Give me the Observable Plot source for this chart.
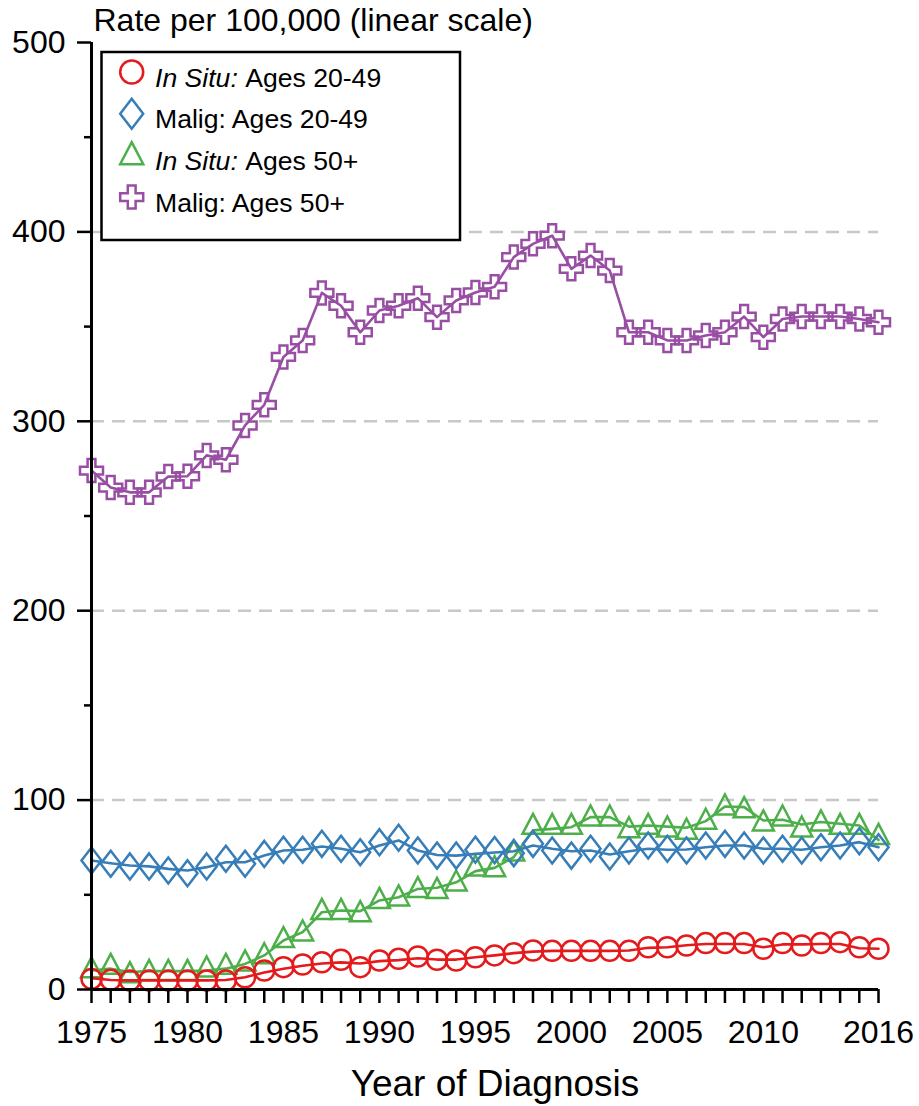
<!DOCTYPE html>
<html><head><meta charset="utf-8">
<script src="https://cdn.jsdelivr.net/npm/d3@7"></script>
<script src="https://cdn.jsdelivr.net/npm/@observablehq/plot@0.6"></script>
<style>body{margin:0;background:#fff;} #chart{width:919px;height:1106px;}</style>
</head><body><div id="chart"></div>
<script>
// ---------- data ----------
const years = [1975,1976,1977,1978,1979,1980,1981,1982,1983,1984,1985,1986,1987,1988,1989,1990,1991,1992,1993,1994,1995,1996,1997,1998,1999,2000,2001,2002,2003,2004,2005,2006,2007,2008,2009,2010,2011,2012,2013,2014,2015,2016];
const xTickLabels = [1975,1980,1985,1990,1995,2000,2005,2010,2016];
const yMajorTicks = [0,100,200,300,400,500];
const yMinorTicks = [50,150,250,350,450];
const yGrid = [100,200,300,400];
const seriesNames = ["In Situ:|Ages 20-49","Malig: Ages 20-49","In Situ:|Ages 50+","Malig: Ages 50+"];

// observed rates
const inSituYoung = [5.6,5.1,4.7,4.7,4.7,4.7,4.7,4.7,6.5,10, 11.8,13.2,14.4,15.7,11.8,15.3,16.2,17.4,15.7,15.3, 17,18,19.2,20.6,20.4,20.4,20.4,20.4,20.4,22.3, 22.3,23.2,24.5,24.5,24.5,21.5,24.5,23.2,24.5,25, 22.3,21.5];
const maligYoung = [68.1,66.4,65,65,62.8,61.4,65,69,66.4,71.6, 73.8,73.8,76.9,74.3,72.5,77.8,80.1,73.4,70.7,70.7, 73.8,73.6,72,76.9,73.4,70.7,74.3,70.2,73.4,76, 74.3,73.4,76,76.9,76,73.4,74.3,73.4,75.1,76, 78.3,75.1];
const inSituOld = [10.7,12.5,8.1,9.3,9.3,9.3,11.1,12.5,14.3,18.1, 26.6,30.1,41.5,41.5,40.3,47.3,48.6,53,52.6,56.5, 64.4,64,72.3,86.4,86.4,86.4,90.8,90.8,84.6,86.4, 85,83.8,89.1,96.6,95.2,88.2,90.8,85,88.2,86.4, 86.4,81.1];
const maligOld = [274,265,262.5,262.5,270.8,271,282,279.7,297.8,308.7, 334,342.7,367.8,361,347,358.5,361,365,355,363.8, 368,371,386.7,393.7,398,380.5,387.5,379.6,347,347, 342.7,342.7,345.3,347,355.3,344.4,354,355.3,355.3,355.3, 354,352.3];

// modeled (fitted) trend lines
const inSituYoungTrend = [6,5,4.8,4.8,4.8,4.8,4.8,5,6.5,9, 11,12.5,13.7,14.3,13.7,15,15.5,16.5,15.8,15.8, 17,18,19.2,20,20.4,20.4,20.4,20.4,20.6,22, 22.3,23.4,24,24,24,22.3,23.8,23.8,24,24, 21.8,21.5];
const maligYoungTrend = [68.1,66.7,65.5,65,63.7,62.8,64.6,67.2,67.2,70.7, 73.4,73.8,75.5,74.3,72.5,76,78.7,73.4,71,70.7, 71.6,72.3,73,76,74.3,73,73.4,71.3,73,74.3, 73.8,73.9,75.1,76,76,74.3,74.3,73.8,75.1,76, 77.8,75.1];
const inSituOldTrend = [10,11,9.2,9.7,9.7,9.7,10,11,13.5,18, 25.9,30.3,40.8,41.7,41.4,47,48.7,53.1,53.7,56.6, 62.5,64.2,69.9,84,84.8,85.7,91,91,86,86.6, 86,85.4,88.9,96.6,96.3,89.2,89.6,87.1,88.4,87.5, 86.6,79];
const maligOldTrend = maligOld;

const colors = ["#e41a1c","#377eb8","#4daf4a","#984ea3"];

// ---------- symbols ----------
const diamondSym = {draw(ctx, size){const r=Math.sqrt(size/Math.PI), w=r, h=r*1.3; ctx.moveTo(0,-h); ctx.lineTo(w,0); ctx.lineTo(0,h); ctx.lineTo(-w,0); ctx.closePath();}};
const triangleSym = {draw(ctx, size){const r=Math.sqrt(size/Math.PI); ctx.moveTo(0,-1.2*r); ctx.lineTo(1.05*r,0.8*r); ctx.lineTo(-1.05*r,0.8*r); ctx.closePath();}};
const plusSym = {draw(ctx, size){const r=Math.sqrt(size/Math.PI), a=r*0.34; ctx.moveTo(-a,-r); ctx.lineTo(a,-r); ctx.lineTo(a,-a); ctx.lineTo(r,-a); ctx.lineTo(r,a); ctx.lineTo(a,a); ctx.lineTo(a,r); ctx.lineTo(-a,r); ctx.lineTo(-a,a); ctx.lineTo(-r,a); ctx.lineTo(-r,-a); ctx.lineTo(-a,-a); ctx.closePath();}};

const series = [
  {name: seriesNames[0], values: inSituYoung, trend: inSituYoungTrend, color: colors[0], symbol: d3.symbolCircle, r: 10, lr: 11.5},
  {name: seriesNames[1], values: maligYoung, trend: maligYoungTrend, color: colors[1], symbol: diamondSym, r: 10, lr: 11.5},
  {name: seriesNames[2], values: inSituOld, trend: inSituOldTrend, color: colors[2], symbol: triangleSym, r: 10, lr: 11},
  {name: seriesNames[3], values: maligOld, trend: maligOldTrend, color: colors[3], symbol: plusSym, r: 11.5, lr: 11.5}
];

const FONT = "'Liberation Sans', Arial, Helvetica, sans-serif";
const drawOrder = [2,1,0,3];

const marks = [
  Plot.gridY(yGrid, {stroke: "#c8c8c8", strokeOpacity: 1, strokeWidth: 2.5, strokeDasharray: "13,8"}),
];
for (const i of drawOrder) {
  const s = series[i];
  const pts = years.map((yr, k) => ({year: yr, value: s.values[k]}));
  const fit = years.map((yr, k) => ({year: yr, value: s.trend[k]}));
  marks.push(Plot.dot(pts, {x: "year", y: "value", symbol: s.symbol, r: s.r, stroke: s.color, fill: "none", strokeWidth: 2.5}));
  marks.push(Plot.line(fit, {x: "year", y: "value", stroke: s.color, strokeWidth: 2.6}));
}
marks.push(
  Plot.axisX(years, {tickSize: 14, tickPadding: 17, strokeWidth: 2.5, fontSize: 32, label: null,
    tickFormat: d => xTickLabels.includes(d) ? String(d) : ""}),
  Plot.axisY(yMajorTicks, {tickSize: 14, tickPadding: 12, strokeWidth: 2.5, fontSize: 32, label: null, tickFormat: d => String(d)}),
  Plot.axisY(yMinorTicks, {tickSize: 7, strokeWidth: 2.5, label: null, tickFormat: () => ""}),
  Plot.ruleX([years[0]], {stroke: "black", strokeWidth: 3}),
  Plot.ruleY([0], {stroke: "black", strokeWidth: 3}),
  Plot.text(["Rate per 100,000 (linear scale)"], {frameAnchor: "top-left", text: d => d, dx: 2, dy: -12, lineAnchor: "bottom", textAnchor: "start", fontSize: 32, fill: "black"}),
  Plot.text(["Year of Diagnosis"], {frameAnchor: "bottom", text: d => d, dx: 10, dy: 106, lineAnchor: "bottom", fontSize: 37, fill: "black"})
);

const plot = Plot.plot({
  width: 919, height: 1106,
  marginLeft: 91, marginRight: 41, marginTop: 42, marginBottom: 117,
  x: {type: "linear", domain: [1975, 2016]},
  y: {type: "linear", domain: [0, 500]},
  style: {fontFamily: FONT, fontSize: "32px", background: "white", color: "black", overflow: "visible"},
  marks
});

// ---------- legend ----------
const svg = d3.select(plot);
const lg = svg.append("g");
lg.append("rect").attr("x", 101.5).attr("y", 52).attr("width", 358.5).attr("height", 188)
  .attr("fill", "white").attr("stroke", "black").attr("stroke-width", 2.5);
series.forEach((s, i) => {
  const cy = 72 + 41.7 * i;
  lg.append("path")
    .attr("d", d3.symbol(s.symbol, Math.PI * s.lr * s.lr)())
    .attr("transform", `translate(131.7,${cy})`)
    .attr("fill", "none").attr("stroke", s.color).attr("stroke-width", 2.5);
  const t = lg.append("text").attr("x", 155).attr("y", 86.5 + 41.7 * i)
    .attr("text-anchor", "start")
    .attr("font-family", FONT).attr("font-size", 26.6).attr("fill", "black");
  if (s.name.includes("|")) {
    const [it, rest] = s.name.split("|");
    t.append("tspan").attr("font-style", "italic").text(it);
    t.append("tspan").text("\u00A0" + rest);
  } else {
    t.text(s.name);
  }
});

document.getElementById("chart").appendChild(plot);
</script>
</body></html>
